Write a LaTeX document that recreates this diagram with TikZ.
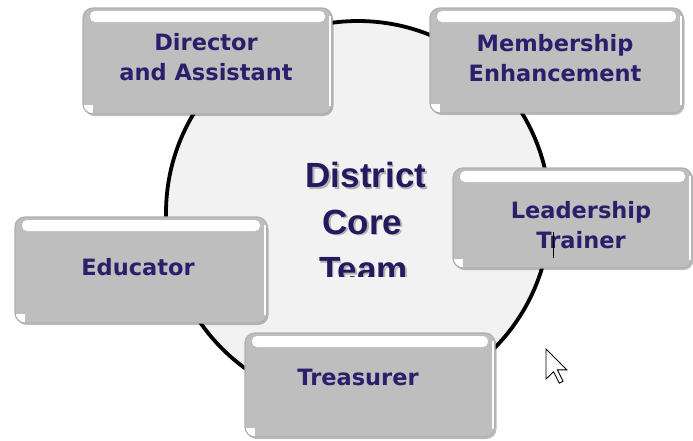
\documentclass[tikz,border=0pt]{standalone}
\usepackage{fontspec}
\usetikzlibrary{shadows}
\newfontfamily\boxfont{DejaVu Sans}
\newfontfamily\corefont{Liberation Sans}
\definecolor{boxgray}{HTML}{BEBEBE}
\definecolor{rimgray}{HTML}{B0B0B0}
\definecolor{navy}{HTML}{2B1F6B}
\definecolor{corenavy}{HTML}{231B5E}
\definecolor{circfill}{HTML}{F2F2F2}
\begin{document}
\begin{tikzpicture}[x=1pt,y=-1pt,
  gbox/.style={draw=rimgray, line width=1.2pt, fill=boxgray, rounded corners=10pt, inner sep=0pt,
    drop shadow={shadow xshift=1.5pt,shadow yshift=-2pt,fill=black,opacity=0.25},
    path picture={
      \fill[white,rounded corners=5pt] ([xshift=7pt,yshift=-3pt]path picture bounding box.north west) rectangle ([xshift=-7pt,yshift=-14pt]path picture bounding box.north east);
      \fill[white,sharp corners] ([xshift=-2pt,yshift=-2pt]path picture bounding box.south west) rectangle ([xshift=10pt,yshift=9pt]path picture bounding box.south west);
      \draw[white,line width=1.5pt,sharp corners] ([xshift=-2pt,yshift=-8pt]path picture bounding box.north east) -- ([xshift=-2pt,yshift=8pt]path picture bounding box.south east);
    }},
  btext/.style={text=navy, font=\boxfont\bfseries\fontsize{22.5}{30}\selectfont, align=center, inner sep=0pt},
  ctext/.style={text=corenavy, font=\corefont\bfseries\fontsize{35}{40}\selectfont, inner sep=0pt},
  cshadow/.style={text=gray, opacity=0.55, font=\corefont\bfseries\fontsize{35}{40}\selectfont, inner sep=0pt},
  pointer/.style={fill=white, draw=black, line width=0.9pt, line join=miter}
]
\useasboundingbox (0,0) rectangle (693,440);
\fill[white] (0,0) rectangle (693,440);

% central circle
\node[circle, draw=black, line width=3.8pt, fill=circfill, minimum size=384pt, inner sep=0pt] (core) at (358,213) {};

% boxes
\node[gbox, minimum width=249pt, minimum height=106pt] (dir) at (207.5,61) {};
\node[gbox, minimum width=253pt, minimum height=105pt] (mem) at (556.5,60.5) {};
\node[gbox, minimum width=239pt, minimum height=100pt] (lead) at (572.5,218) {};
\node[gbox, minimum width=252pt, minimum height=106pt] (edu) at (141,270) {};
\node[gbox, minimum width=250pt, minimum height=104pt] (tre) at (370,385) {};

% box texts
\node[btext] (dirt) at (206,57.5) {Director\\and Assistant};
\node[btext] (memt) at (555,58) {Membership\\Enhancement};
\node[btext] (leadt) at (581,225) {Leadership\\Trainer};
\node[btext] (edut) at (138,267) {Educator};
\node[btext] (tret) at (358,377) {Treasurer};

% centre text
\node[cshadow] (ds) at (367.5,176.5) {District};
\node[ctext] (dt) at (366,175) {District};
\node[cshadow] (cs) at (364,223.5) {Core};
\node[ctext] (ct) at (362.5,222) {Core};
\begin{scope}
  \clip (250,235) rectangle (480,276);
  \node[cshadow] (ts) at (365,271.5) {Team};
  \node[ctext] (tt) at (363.5,270) {Team};
\end{scope}

% text cursor in "Trainer"
\coordinate (ibtop) at (553,232);
\coordinate (ibbot) at (553,258);
\draw[black, line width=0.8pt] (ibtop) -- (ibbot);

% mouse pointer
\coordinate (tip) at (546,349);
\draw[pointer] (tip) -- ++(0,30) -- ++(7.6,-7.2) -- ++(5.7,11.4) -- ++(3.8,-1.9) -- ++(-5.7,-11.4) -- ++(9.5,0) -- cycle;
\end{tikzpicture}
\end{document}
